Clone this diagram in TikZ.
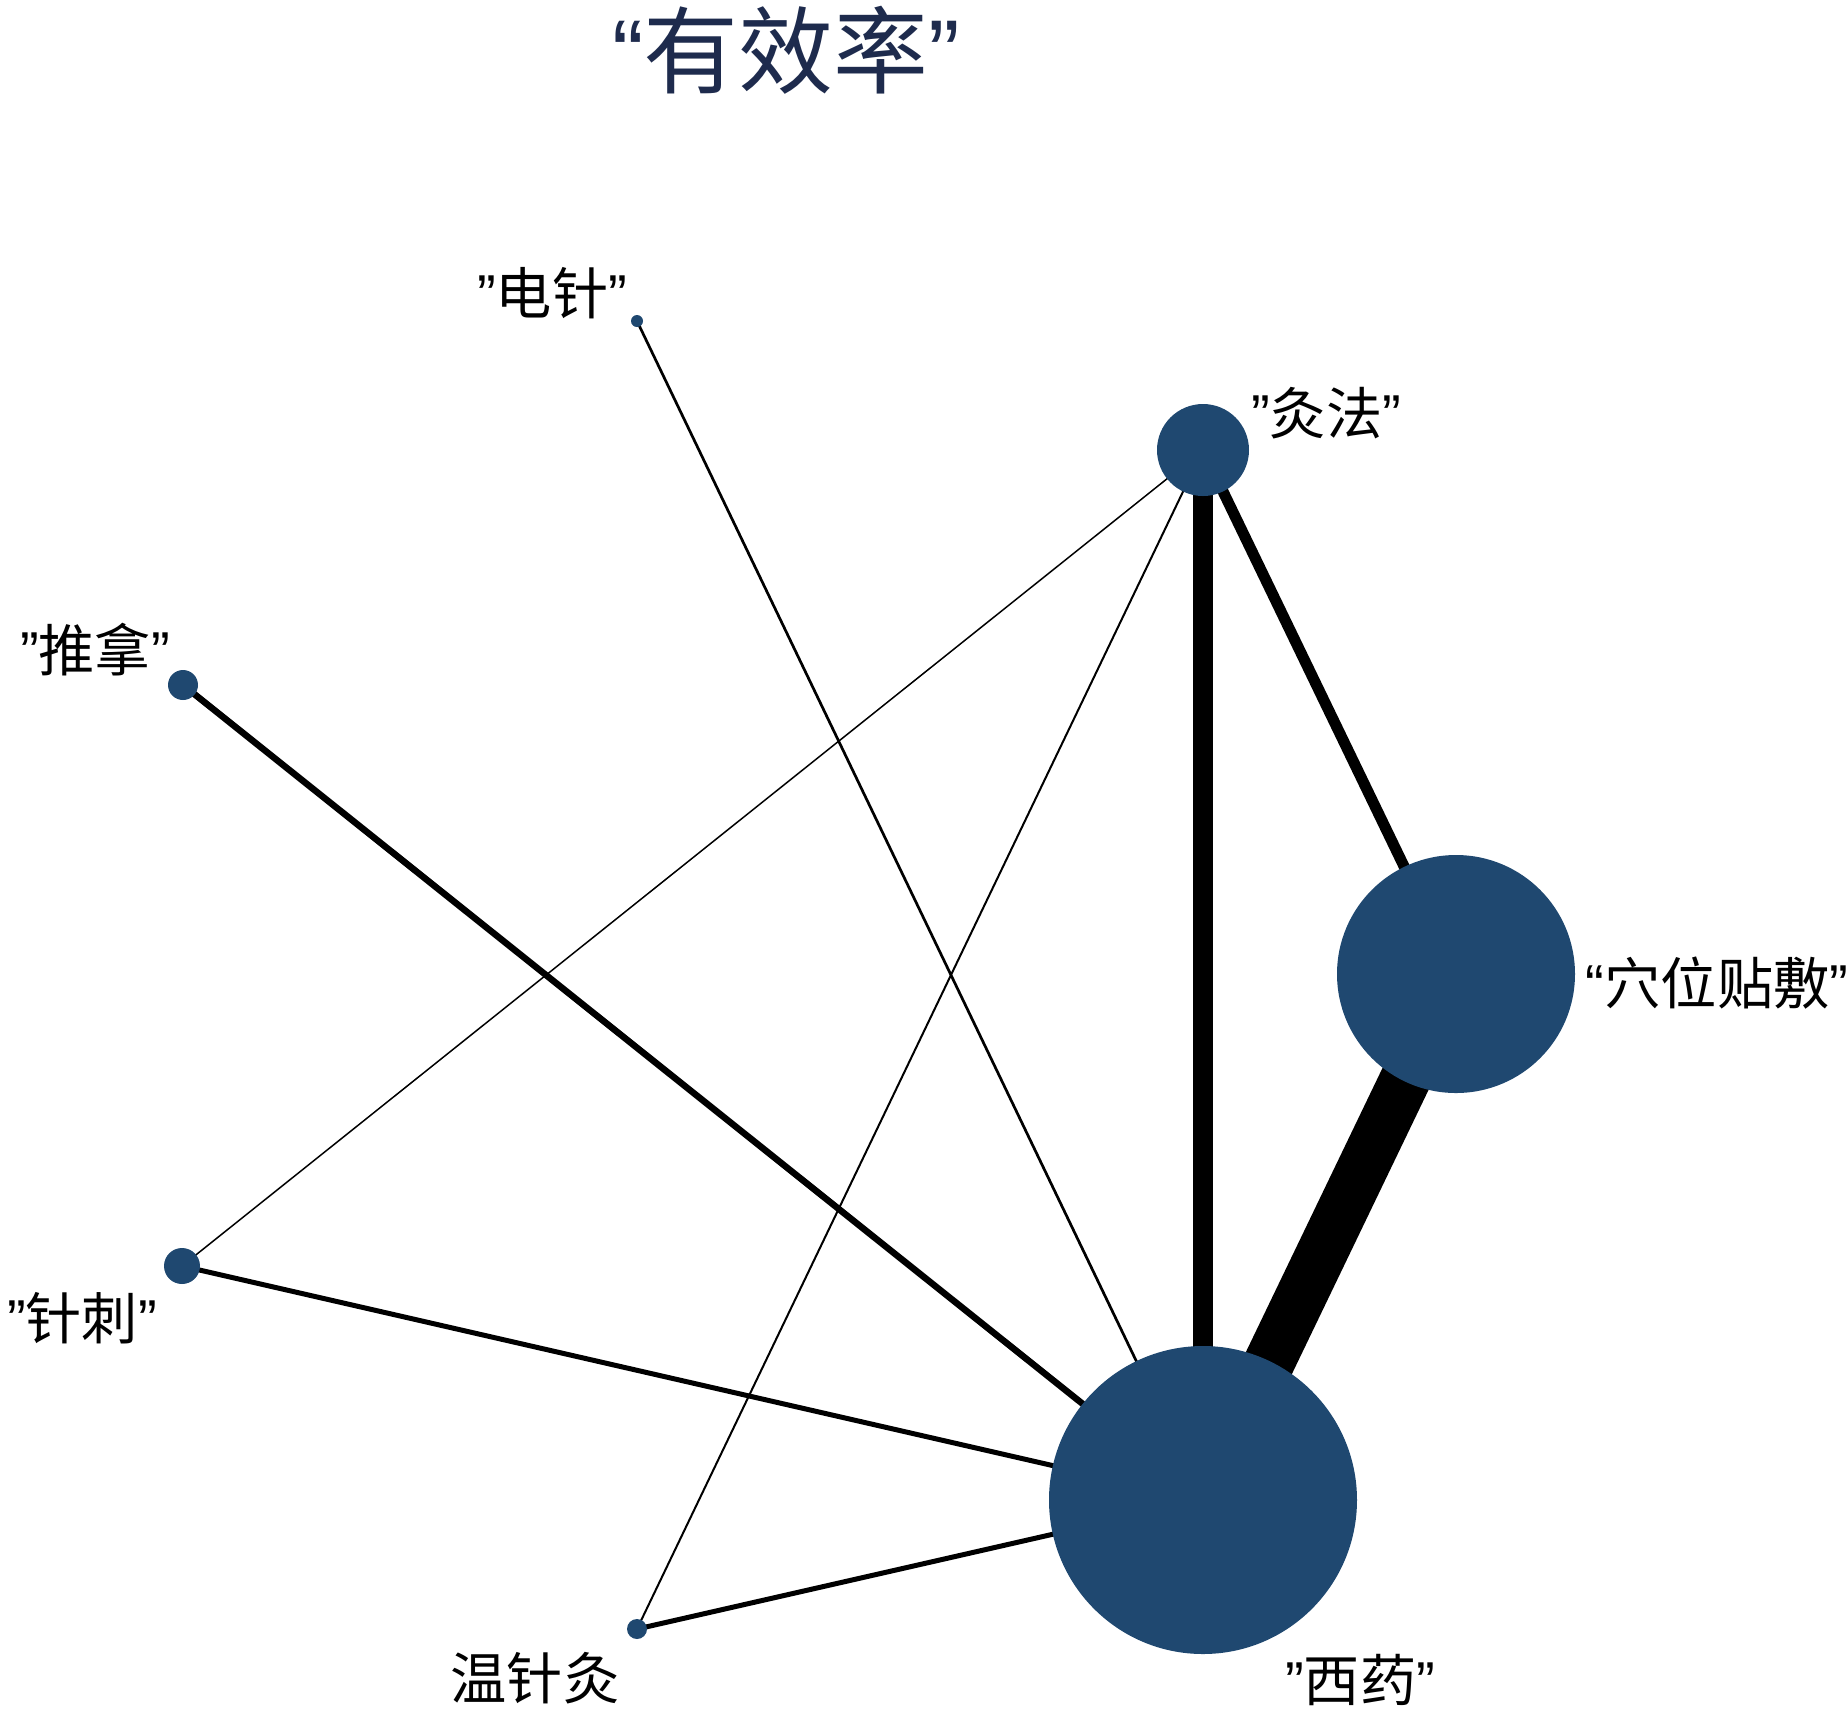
\documentclass[tikz,border=0pt]{standalone}
\usepackage{fontspec}
\setmainfont{Noto Sans CJK SC}
\newfontfamily\quotefont{Liberation Sans}
\newcommand{\openq}{{\quotefont “}}
\newcommand{\closeq}{{\quotefont ”}}
\usepackage{xcolor}
\usetikzlibrary{backgrounds}
\definecolor{nodeblue}{RGB}{31,72,112}
\definecolor{titlenavy}{RGB}{30,43,77}

\begin{document}
\begin{tikzpicture}[x=0.1mm,y=-0.1mm,
  drug/.style={circle,fill=nodeblue,inner sep=0pt},
  lbl/.style={font=\fontsize{16}{19}\selectfont,inner sep=0pt},
  link/.style={draw=black}]
\useasboundingbox (0,0) rectangle (1848,1712);

 %title:
 \node[font=\fontsize{27}{32}\selectfont,text=titlenavy,inner sep=0pt] (title) at (786,50) {\openq 有效率\closeq};

 %treatments
 \node[drug,minimum size=1.2mm] (dianzhen) at (637,321) {};
 \node[drug,minimum size=9.2mm] (jiufa) at (1203,450) {};
 \node[drug,minimum size=3mm] (tuina) at (183,685) {};
 \node[drug,minimum size=23.8mm] (xuewei) at (1456,974) {};
 \node[drug,minimum size=3.6mm] (zhenci) at (182,1266) {};
 \node[drug,minimum size=2mm] (wenzhen) at (637,1629) {};
 \node[drug,minimum size=30.8mm] (xiyao) at (1203,1500) {};

 %labels
 \node[lbl] (dianzhenlbl) at (552,293) {\closeq 电针\closeq};
 \node[lbl] (jiufalbl) at (1326,413) {\closeq 灸法\closeq};
 \node[lbl] (tuinalbl) at (95,650) {\closeq 推拿\closeq};
 \node[lbl] (xueweilbl) at (1717,983) {\openq 穴位贴敷\closeq};
 \node[lbl] (zhencilbl) at (82,1318) {\closeq 针刺\closeq};
 \node[lbl] (wenzhenlbl) at (535,1678) {温针灸};
 \node[lbl] (xiyaolbl) at (1360,1680) {\closeq 西药\closeq};

 %comparisons
 \begin{scope}[on background layer]
 \draw[link,line width=5.1mm] (xuewei.center) -- (xiyao.center);
 \draw[link,line width=2mm] (jiufa.center) -- (xiyao.center);
 \draw[link,line width=1.1mm] (jiufa.center) -- (xuewei.center);
 \draw[link,line width=0.65mm] (tuina.center) -- (xiyao.center);
 \draw[link,line width=0.5mm] (zhenci.center) -- (xiyao.center);
 \draw[link,line width=0.5mm] (wenzhen.center) -- (xiyao.center);
 \draw[link,line width=0.27mm] (dianzhen.center) -- (xiyao.center);
 \draw[link,line width=0.2mm] (jiufa.center) -- (wenzhen.center);
 \draw[link,line width=0.15mm] (jiufa.center) -- (zhenci.center);
 \end{scope}
\end{tikzpicture}
\end{document}
